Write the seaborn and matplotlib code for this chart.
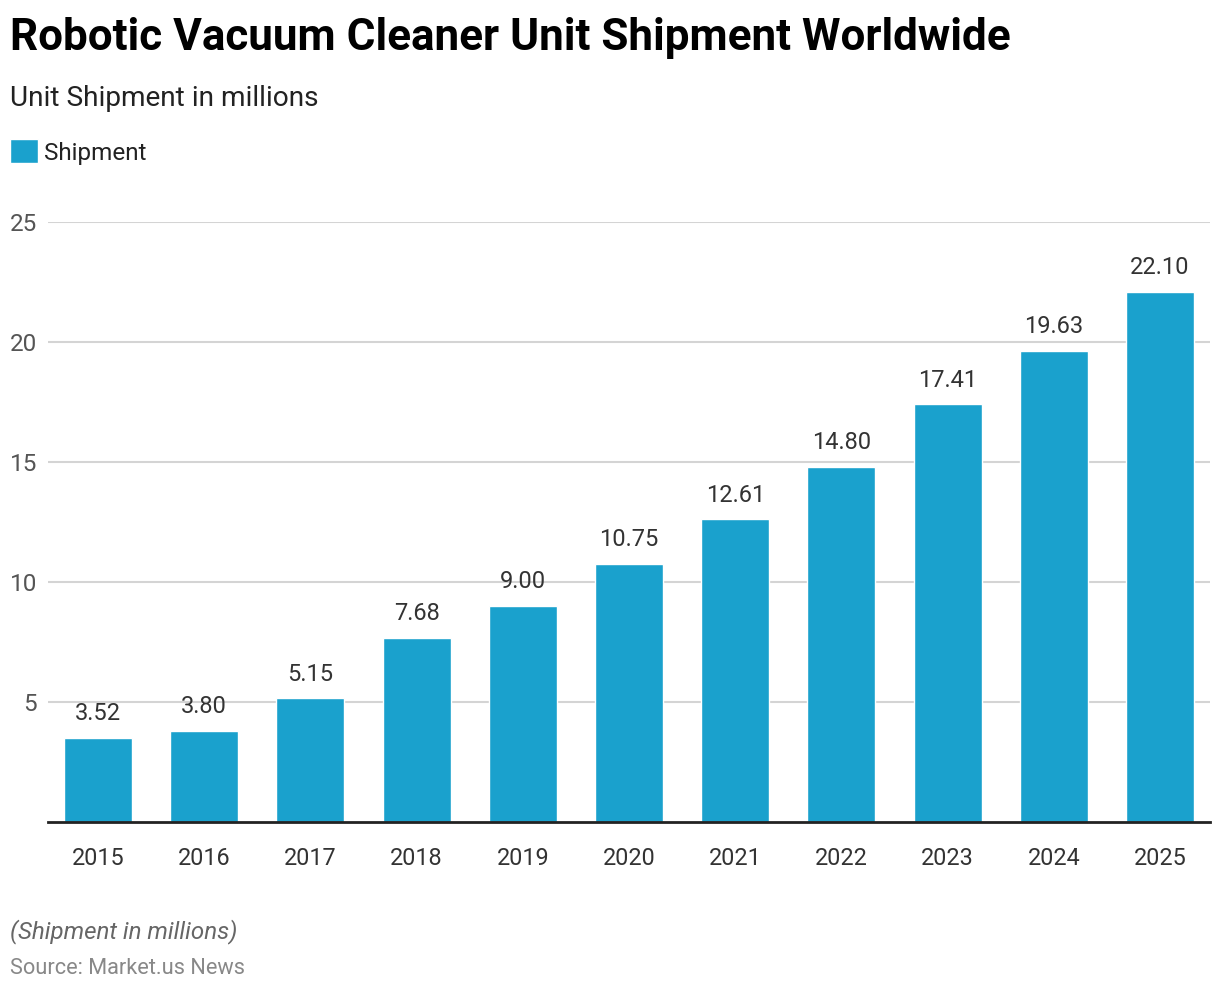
import matplotlib
matplotlib.use("Agg")
import matplotlib.pyplot as plt
import seaborn as sns
import pandas as pd

years = ["2015", "2016", "2017", "2018", "2019", "2020", "2021", "2022", "2023", "2024", "2025"]
shipment = [3.52, 3.80, 5.15, 7.68, 9.00, 10.75, 12.61, 14.80, 17.41, 19.63, 22.10]
series_name = "Shipment"
yticks = [5, 10, 15, 20, 25]

title = "Robotic Vacuum Cleaner Unit Shipment Worldwide"
subtitle = "Unit Shipment in millions"
footnote = "(Shipment in millions)"
source = "Source: Market.us News"

BAR = "#1aa1cd"

sns.set_theme(style="white")
plt.rcParams["font.family"] = ["Roboto", "DejaVu Sans"]

df = pd.DataFrame({"Year": years, "Value": shipment, "Series": series_name})

fig = plt.figure(figsize=(12.2, 9.94), dpi=100)
ax = fig.add_axes([48 / 1220, 1 - 822 / 994, (1210 - 48) / 1220, (822 - 222) / 994])

sns.barplot(data=df, x="Year", y="Value", hue="Series", palette=[BAR], width=0.64,
            ax=ax, legend=False, saturation=1)

ax.set_xlim(-0.47, len(years) - 0.53)
ax.set_ylim(0, 25)
ax.set_yticks(yticks)
ax.set_yticklabels([str(t) for t in yticks])
ax.set_xlabel("")
ax.set_ylabel("")
ax.yaxis.grid(True, color="#d4d4d4", linewidth=1.5)
ax.set_axisbelow(True)
for s in ["top", "right", "left"]:
    ax.spines[s].set_visible(False)
ax.spines["bottom"].set_color("#222222")
ax.spines["bottom"].set_linewidth(2)
ax.tick_params(axis="x", length=8, width=2, color="#222222", labelsize=16.8,
               labelcolor="#333333", pad=10)
ax.tick_params(axis="y", length=0, labelsize=17.5, labelcolor="#555555", pad=8)

for c in ax.containers:
    ax.bar_label(c, labels=[f"{v:.2f}" for v in shipment], padding=9,
                 fontsize=17, color="#333333")

fig.text(10 / 1220, 1 - 38 / 994, title, fontsize=31.7, fontweight="bold",
         color="#000000", va="center", ha="left")
fig.text(10 / 1220, 1 - 98 / 994, subtitle, fontsize=20.2, color="#222222",
         va="center", ha="left")
fig.legend(handles=[ax.patches[0]], labels=[series_name], loc="center left",
           bbox_to_anchor=(10 / 1220, 1 - 152 / 994), frameon=False, fontsize=17.5,
           handlelength=1.15, handleheight=1.15, handletextpad=0.25,
           borderpad=0, borderaxespad=0, labelcolor="#222222")
fig.text(10 / 1220, 1 - 932 / 994, footnote, fontsize=17.4, style="italic",
         color="#666666", va="center", ha="left")
fig.text(10 / 1220, 1 - 969 / 994, source, fontsize=15.7, color="#888888",
         va="center", ha="left")

fig.savefig("out.png", dpi=100)
